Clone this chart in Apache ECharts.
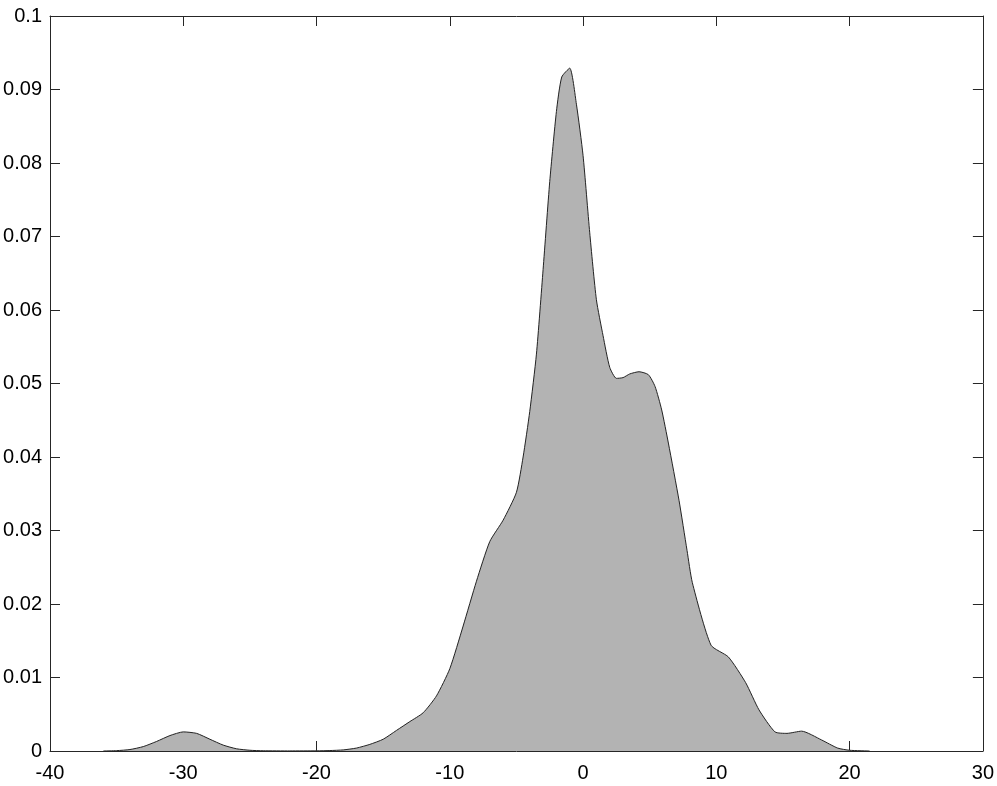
<!DOCTYPE html>
<html>
<head>
<meta charset="utf-8">
<script src="https://cdn.jsdelivr.net/npm/echarts@6/dist/echarts.min.js"></script>
<style>
  html, body { margin: 0; padding: 0; background: #fff; }
  #chart { width: 997px; height: 786px; }
</style>
</head>
<body>
<div id="chart"></div>
<script>
// density estimate
const xs = [-36, -35, -34, -33, -32, -31, -30, -29, -28, -27, -26, -25, -24, -22, -20, -19, -18, -17, -16, -15,
  -14, -13, -12, -11, -10, -9, -8, -7, -6, -5, -4.5, -4, -3.5, -3, -2.5, -2, -1.6, -1.0, -0.5, 0,
  0.5, 1.0, 1.5, 2.0, 2.5, 3.0, 3.5, 4.2, 4.9, 5.4, 5.9, 6.4, 7.2, 7.8, 8.2, 9.6, 10.9, 12.2, 13.2, 14.4,
  15.3, 16.4, 17.9, 19.1, 20, 21.5]
const ys = [0, 0.00005, 0.0002, 0.0006, 0.0013, 0.0021, 0.0026, 0.0024, 0.0016, 0.0008, 0.0003, 0.0001, 0.00003, 0.00001, 0.00002, 0.00006, 0.00015, 0.0004, 0.0009, 0.0016,
  0.0028, 0.0040, 0.0052, 0.0075, 0.0112, 0.0170, 0.0231, 0.0285, 0.0314, 0.0352, 0.0400, 0.0462, 0.0540, 0.0655, 0.0775, 0.0870, 0.0917, 0.0929, 0.0880, 0.0810,
  0.0705, 0.0614, 0.0565, 0.0522, 0.0507, 0.0508, 0.0513, 0.0516, 0.0512, 0.0496, 0.0464, 0.0419, 0.0341, 0.0273, 0.0229, 0.0144, 0.0128, 0.0093, 0.0056, 0.0026,
  0.0024, 0.0027, 0.0015, 0.0004, 0.0001, 0]

const xMin = -40, xMax = 30, xStep = 10
const yMin = 0, yMax = 0.1, yStep = 0.01

const frame = '#262626'
const font = 'Liberation Sans, Arial, Helvetica, sans-serif'

const axisX = (pos, labels) => ({
  type: 'value', position: pos, min: xMin, max: xMax, interval: xStep,
  axisLine: { show: true, onZero: false, lineStyle: { color: frame, width: 1 } },
  axisTick: { show: true, inside: true, length: 10, lineStyle: { color: frame } },
  axisLabel: { show: labels, color: '#000', fontSize: 20, fontFamily: font, margin: 12 },
  splitLine: { show: false }
})
const axisY = (pos, labels) => ({
  type: 'value', position: pos, min: yMin, max: yMax, interval: yStep,
  axisLine: { show: true, onZero: false, lineStyle: { color: frame, width: 1 } },
  axisTick: { show: true, inside: true, length: 10, lineStyle: { color: frame } },
  axisLabel: { show: labels, color: '#000', fontSize: 20, fontFamily: font, margin: 8 },
  splitLine: { show: false }
})

const chart = echarts.init(document.getElementById('chart'), null, { renderer: 'canvas' })
chart.setOption({
  animation: false,
  backgroundColor: '#fff',
  grid: { left: 50, right: 12, top: 16, bottom: 35, containLabel: false },
  xAxis: [axisX('bottom', true), axisX('top', false)],
  yAxis: [axisY('left', true), axisY('right', false)],
  series: [{
    type: 'line',
    data: xs.map((x, i) => [x, ys[i]]),
    showSymbol: false,
    smooth: 0.2,
    lineStyle: { color: '#222', width: 1 },
    areaStyle: { color: '#b3b3b3', opacity: 1 },
    z: 1
  }]
})
</script>
</body>
</html>
